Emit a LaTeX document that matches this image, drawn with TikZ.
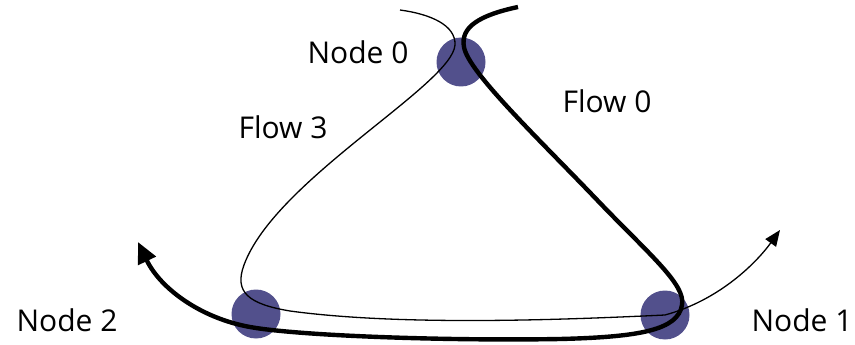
\documentclass[tikz,border=0pt]{standalone}
\usepackage{fontspec}
\setmainfont{Open Sans}
\usetikzlibrary{arrows.meta}
\definecolor{nodeblue}{RGB}{82,80,140}
\tikzset{
  netnode/.style={circle,fill=nodeblue,minimum size=49pt,inner sep=0pt},
  lbl/.style={font=\fontsize{30}{33}\selectfont,inner sep=0pt},
  thickflow/.style={line width=4.4pt,-{Triangle[length=21pt,width=19pt]}},
  thinflow/.style={line width=1.3pt,-{Triangle[length=16pt,width=13pt]}}
}
\begin{document}
\begin{tikzpicture}[x=1pt,y=-1pt]
\useasboundingbox (0,0) rectangle (855,345);
\node[netnode] (n0) at (461,62) {};
\node[netnode] (n1) at (665,315) {};
\node[netnode] (n2) at (256,314) {};
\node[lbl] (l0) at (358,52) {Node 0};
\node[lbl] (l1) at (802,320) {Node 1};
\node[lbl] (l2) at (67,320) {Node 2};
\node[lbl] (f0) at (607,101) {Flow 0};
\node[lbl] (f3) at (283,127) {Flow 3};
\coordinate (t0) at (518,7);
\coordinate (t3) at (400,10);
\draw[thinflow] (t3) .. controls (430,14) and (456,25) .. (455,45)
  .. controls (452,85) and (275,180) .. (244,265)
  .. controls (234,292) and (248,304) .. (290,311)
  .. controls (400,326) and (560,320) .. (n1.center)
  .. controls (720,300) and (757,262) .. (780,230);
\draw[thickflow] (t0) .. controls (480,15) and (460,27) .. (464,47)
  .. controls (468,72) and (540,140) .. (600,203)
  .. controls (650,255) and (686,285) .. (682,305)
  .. controls (678,330) and (640,337) .. (560,339)
  .. controls (450,341) and (300,336) .. (250,327)
  .. controls (200,318) and (160,288) .. (138,242);
\end{tikzpicture}
\end{document}
